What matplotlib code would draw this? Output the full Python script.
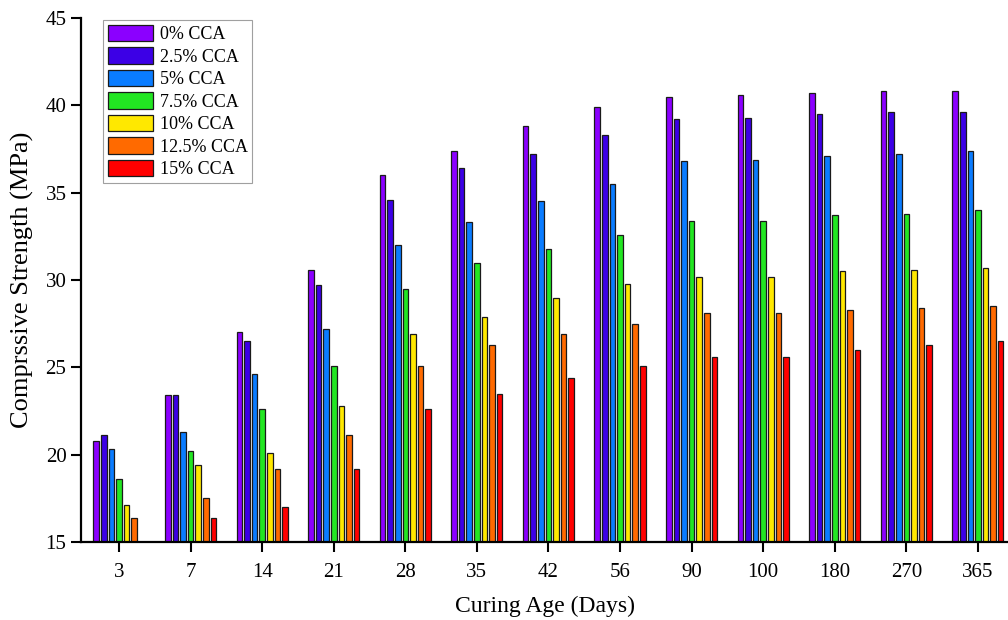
import numpy as np
import matplotlib
matplotlib.use('Agg')
import matplotlib.pyplot as plt

plt.rcParams['font.family'] = ['Liberation Serif', 'DejaVu Serif']

ages = ['3', '7', '14', '21', '28', '35', '42', '56', '90', '100', '180', '270', '365']
mixes = ['0% CCA', '2.5% CCA', '5% CCA', '7.5% CCA', '10% CCA', '12.5% CCA', '15% CCA']
colors = ['#8B00FF', '#3C00E6', '#0A7CFF', '#22E622', '#FFE800', '#FF6A00', '#FF0000']

# compressive strength (MPa), one list per CCA replacement level
cca_0 = [20.8, 23.4, 27.0, 30.6, 36.0, 37.4, 38.8, 39.9, 40.5, 40.6, 40.7, 40.8, 40.8]
cca_2_5 = [21.1, 23.4, 26.5, 29.7, 34.6, 36.4, 37.2, 38.3, 39.2, 39.3, 39.5, 39.6, 39.6]
cca_5 = [20.3, 21.3, 24.6, 27.2, 32.0, 33.3, 34.5, 35.5, 36.8, 36.9, 37.1, 37.2, 37.4]
cca_7_5 = [18.6, 20.2, 22.6, 25.1, 29.5, 31.0, 31.8, 32.6, 33.4, 33.4, 33.7, 33.8, 34.0]
cca_10 = [17.1, 19.4, 20.1, 22.8, 26.9, 27.9, 29.0, 29.8, 30.2, 30.2, 30.5, 30.6, 30.7]
cca_12_5 = [16.4, 17.5, 19.2, 21.1, 25.1, 26.3, 26.9, 27.5, 28.1, 28.1, 28.3, 28.4, 28.5]
cca_15 = [14.6, 16.4, 17.0, 19.2, 22.6, 23.5, 24.4, 25.1, 25.6, 25.6, 26.0, 26.3, 26.5]
series = [cca_0, cca_2_5, cca_5, cca_7_5, cca_10, cca_12_5, cca_15]

fig = plt.figure(figsize=(10.08, 6.2), dpi=100)
ax = fig.add_axes([0.0804, 0.1258, 0.9196, 0.845])

x = np.arange(len(ages))
slot = 0.106
for i, (vals, lab, col) in enumerate(zip(series, mixes, colors)):
    ax.bar(x + (i - 3) * slot, vals, width=0.078, color=col, edgecolor='#1a1a1a',
           linewidth=0.9, label=lab)

ax.set_ylim(15, 45)
ax.set_xlim(-0.53, 12.42)
ax.set_yticks([15, 20, 25, 30, 35, 40, 45])
ax.set_xticks(x)
ax.set_xticklabels(ages)
ax.tick_params(axis='both', labelsize=15, width=1.5, length=7, direction='out')
ax.tick_params(axis='x', pad=8)
ax.spines['top'].set_visible(False)
ax.spines['right'].set_visible(False)
ax.spines['left'].set_linewidth(1.6)
ax.spines['bottom'].set_linewidth(1.6)

ax.set_xlabel('Curing Age (Days)', fontsize=17, labelpad=10)
ax.set_ylabel('Comprssive Strength (MPa)', fontsize=19, labelpad=8)

leg = ax.legend(loc='upper left', bbox_to_anchor=(103 / 1008, 1 - 20 / 620),
                bbox_transform=fig.transFigure, fontsize=13, frameon=True,
                fancybox=False, edgecolor='#888888', handlelength=2.5,
                handleheight=1.05, labelspacing=0.22, handletextpad=0.4,
                borderpad=0.25, borderaxespad=0)
leg.get_frame().set_linewidth(0.8)

fig.savefig('out.png', dpi=100)
